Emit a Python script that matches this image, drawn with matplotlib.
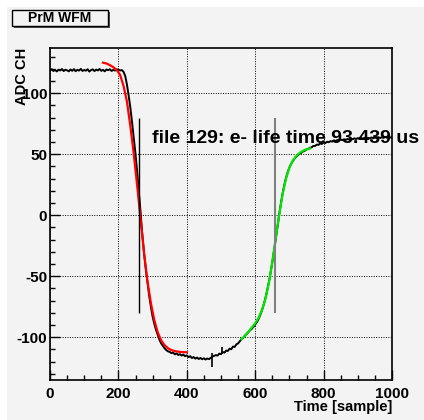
import numpy as np
import matplotlib
matplotlib.use('Agg')
import matplotlib.pyplot as plt
from matplotlib.patches import Rectangle
from matplotlib.ticker import MultipleLocator

plt.rcParams['font.family'] = ['Liberation Sans', 'DejaVu Sans']
plt.rcParams['font.weight'] = 'bold'
plt.rcParams['axes.unicode_minus'] = False

# waveform, one value every 5 samples (0 .. 1000)
wf_step = 5
wf_adc = [
    118.5, 119.6, 118.2, 119.0, 117.8, 119.3, 118.6, 119.8, 118.1, 119.2,
    118.7, 117.9, 119.4, 118.3, 119.7, 118.0, 119.1, 118.5, 119.9, 118.2,
    119.0, 118.4, 119.6, 117.7, 118.9, 119.5, 118.1, 119.3, 118.6, 119.8,
    118.3, 119.1, 117.9, 119.4, 118.8, 119.6, 118.2, 119.0, 118.5, 119.5,
    119.2, 118.6, 118.9, 117.5, 114.0, 107.0, 98.0, 88.0, 76.0, 63.0,
    50.0, 35.0, 19.0, 2.0, -16.0, -31.0, -44.0, -55.0, -66.0, -75.0,
    -83.0, -89.0, -94.0, -98.0, -102.0, -105.0, -107.0, -109.0, -110.5, -111.5,
    -112.0, -113.0, -112.5, -114.0, -113.2, -114.5, -113.8, -115.0, -114.2, -115.5,
    -114.8, -116.3, -115.5, -117.0, -116.2, -117.5, -116.6, -117.8, -116.9, -118.0,
    -117.2, -118.2, -117.4, -117.9, -116.8, -115.8, -115.2, -114.6, -115.0, -113.4,
    -113.8, -112.1, -112.6, -110.9, -111.2, -109.3, -109.8, -107.6, -107.9, -105.8,
    -105.0, -103.2, -101.5, -100.4, -98.6, -97.4, -95.8, -94.2, -93.0, -91.4,
    -89.5, -87.6, -84.8, -81.6, -77.8, -73.2, -67.8, -61.6, -54.8, -47.0,
    -38.5, -29.4, -19.8, -9.6, 0.2, 9.4, 17.6, 24.6, 30.4, 35.2,
    39.0, 42.0, 44.4, 46.4, 48.0, 49.3, 50.4, 51.2, 52.3, 52.8,
    53.9, 54.2, 55.3, 55.6, 56.8, 56.7, 57.9, 57.6, 58.8, 58.4,
    59.6, 59.1, 60.2, 59.8, 60.7, 60.3, 61.2, 60.8, 61.6, 61.1,
    62.0, 61.5, 62.3, 61.7, 62.5, 62.0, 62.8, 62.2, 63.0, 62.4,
    63.2, 62.6, 63.3, 62.7, 63.5, 62.9, 63.4, 63.0, 63.7, 63.1,
    63.6, 63.2, 63.9, 63.3, 63.8, 63.4, 64.0, 63.5, 63.9, 63.6,
    64.0,
]
spike_x = [475, 503]
spike_lo = [-124, -114]
spike_hi = [-113, -108]

# falling edge fit (red)
fit1_x = [155, 165, 175, 185, 195, 205, 215, 225, 235, 245, 255, 265, 275,
          285, 295, 305, 315, 325, 335, 345, 355, 365, 375, 385, 400]
fit1_y = [125.0, 124.3, 123.0, 121.3, 119.0, 115.0, 106.0, 93.0, 73.0, 50.0,
          24.0, -3.5, -31.0, -54.0, -72.0, -86.0, -96.0, -102.5, -106.5,
          -109.0, -110.5, -111.3, -111.8, -112.1, -112.3]

# rising edge fit (green)
fit2_x = [560, 570, 580, 590, 600, 610, 620, 630, 640, 650, 660, 670, 680,
          690, 700, 710, 720, 730, 740, 750, 760]
fit2_y = [-101.5, -98.8, -95.5, -92.0, -88.5, -84.0, -77.5, -68.5, -55.5,
          -38.5, -19.0, 0.0, 17.0, 30.0, 39.0, 44.8, 48.6, 51.1, 52.8, 54.0, 54.8]

# marker lines
mark_x = [261, 657]
mark_lo, mark_hi = -80, 80

label = 'file 129: e- life time 93.439 us'

bg = '#f3f3f3'
fig = plt.figure(figsize=(4.24, 4.2), dpi=100, facecolor='white')
fig.patches.append(Rectangle((7 / 424, 0), 1, 413 / 420, transform=fig.transFigure,
                             facecolor=bg, edgecolor='none', zorder=-10))
ax = fig.add_axes([50 / 424, 40 / 420, 342 / 424, 332 / 420])
ax.set_facecolor(bg)

t = np.arange(len(wf_adc)) * wf_step
ax.plot(t, wf_adc, color='black', lw=1.4, zorder=3)
ax.vlines(spike_x, spike_lo, spike_hi, color='black', lw=1.2, zorder=3)
ax.plot(fit1_x, fit1_y, color='#ff0000', lw=1.6, zorder=4)
ax.plot(fit2_x, fit2_y, color='#00e600', lw=1.6, zorder=4)
ax.vlines(mark_x[0], mark_lo, mark_hi, color='black', lw=1.0, zorder=5)
ax.vlines(mark_x[1], mark_lo, mark_hi, color='#808080', lw=1.5, zorder=5)

ax.text(298, 59.3, label, fontsize=14, fontweight='bold', va='baseline',
        ha='left', clip_on=False, zorder=6)

ax.set_xlim(0, 1000)
ax.set_ylim(-135, 137)
ax.xaxis.set_major_locator(MultipleLocator(200))
ax.xaxis.set_minor_locator(MultipleLocator(50))
ax.yaxis.set_major_locator(MultipleLocator(50))
ax.yaxis.set_minor_locator(MultipleLocator(10))
ax.tick_params(which='both', direction='in', top=False, right=False,
               labelsize=11, width=1.0, pad=2)
ax.tick_params(which='major', length=7)
ax.tick_params(which='minor', length=3.5)
ax.tick_params(axis='x', pad=5)
for lab in ax.get_xticklabels() + ax.get_yticklabels():
    lab.set_fontweight('bold')
ax.grid(True, which='major', color='black', ls=(0, (1, 1.5)), lw=0.7)
for s in ax.spines.values():
    s.set_linewidth(1.2)

ax.set_xlabel('Time [sample]', fontsize=10.5, fontweight='bold', ha='right')
ax.xaxis.set_label_coords(1.0, -0.06)
ax.set_ylabel('ADC CH', fontsize=10.5, fontweight='bold', ha='right')
ax.yaxis.set_label_coords(-0.062, 1.0)

# title box with a small drop shadow
fig.patches.append(Rectangle((14 / 424, 1 - 28 / 420), 96 / 424, 16 / 420,
                             transform=fig.transFigure, facecolor='#555555',
                             edgecolor='none', zorder=4))
fig.patches.append(Rectangle((12 / 424, 1 - 26 / 420), 96 / 424, 16 / 420,
                             transform=fig.transFigure, facecolor=bg,
                             edgecolor='black', lw=1.0, zorder=5))
fig.text(60 / 424, 1 - 17.5 / 420, 'PrM WFM', fontsize=10, fontweight='bold',
         ha='center', va='center', zorder=6)

fig.savefig('out.png', dpi=100, facecolor=fig.get_facecolor())
